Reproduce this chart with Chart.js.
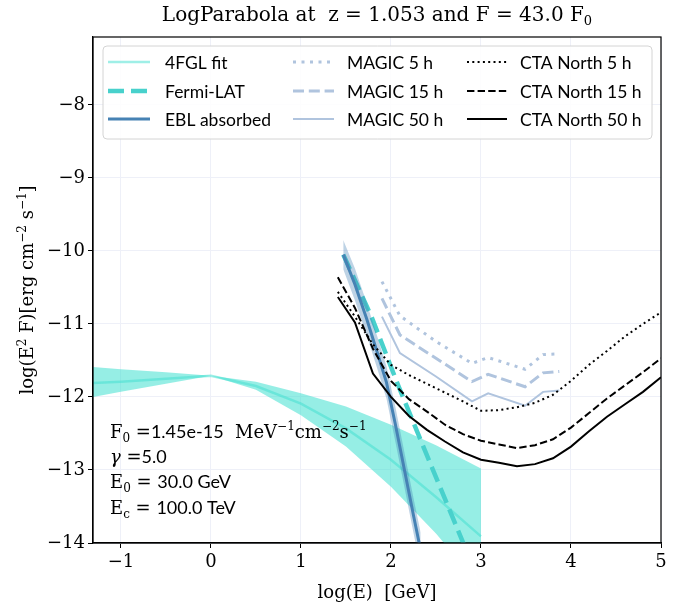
<!DOCTYPE html>
<html lang="en">
<head>
<meta charset="UTF-8">
<title>LogParabola spectrum</title>
<script src="https://cdn.jsdelivr.net/npm/chart.js"></script>
<style>
  body { margin: 0; background: #fff; }
  #wrap { width: 687px; height: 610px; }
</style>
</head>
<body>
<div id="wrap"><canvas id="sed"></canvas></div>
<script>
// log10(E / GeV) and log10(E^2 F / erg cm^-2 s^-1)

// 4FGL log-parabola fit with its uncertainty band
const fglX     = [-1.31, -1, -0.5, 0, 0.5, 1, 1.5, 2, 2.5, 3];
const fglFit   = [-11.81, -11.79, -11.75, -11.71, -11.85, -12.09, -12.43, -12.86, -13.37, -13.91];
const fglUpper = [-11.59, -11.62, -11.66, -11.71, -11.79, -11.95, -12.13, -12.38, -12.66, -12.98];
const fglLower = [-12.0, -11.93, -11.82, -11.71, -11.90, -12.25, -12.68, -13.23, -13.87, -14.6];

// Fermi-LAT extrapolation
const fermiX = [1.47, 1.79, 2.08, 2.43, 2.81];
const fermiY = [-10.05, -10.92, -11.84, -12.89, -14.02];

// EBL absorbed spectrum and band
const eblX     = [1.47, 1.6, 1.73, 1.85, 1.95, 2.05, 2.15, 2.25, 2.33];
const eblY     = [-10.05, -10.46, -10.93, -11.40, -11.80, -12.38, -13.0, -13.62, -14.1];
const eblUpper = [-9.85, -10.24, -10.71, -11.18, -11.58, -12.14, -12.76, -13.38, -13.86];
const eblLower = [-10.25, -10.68, -11.15, -11.62, -12.02, -12.62, -13.24, -13.86, -14.34];

// MAGIC sensitivity curves
const magicX   = [1.9, 2.1, 2.5, 2.9, 3.08, 3.49, 3.69, 3.87];
const magic5   = [-10.42, -10.89, -11.24, -11.54, -11.46, -11.62, -11.42, -11.41];
const magic15  = [-10.65, -11.15, -11.47, -11.79, -11.69, -11.86, -11.67, -11.65];
const magic50  = [-10.90, -11.40, -11.72, -12.06, -11.95, -12.12, -11.93, -11.91];

// CTA North sensitivity curves
const ctaX  = [1.41, 1.6, 1.8, 2.0, 2.2, 2.4, 2.6, 2.8, 3.0, 3.2, 3.4, 3.6, 3.8, 4.0, 4.2, 4.4, 4.6, 4.8, 5.0];
const cta5  = [-10.56, -10.90, -11.28, -11.56, -11.70, -11.82, -11.94, -12.06, -12.19, -12.18, -12.14, -12.08, -11.97, -11.78, -11.56, -11.37, -11.17, -11.00, -10.84];
const cta15 = [-10.36, -10.78, -11.34, -11.78, -12.03, -12.20, -12.38, -12.51, -12.60, -12.65, -12.70, -12.66, -12.58, -12.42, -12.22, -12.02, -11.84, -11.66, -11.47];
const cta50 = [-10.63, -10.98, -11.68, -12.0, -12.26, -12.45, -12.61, -12.76, -12.86, -12.90, -12.95, -12.92, -12.84, -12.68, -12.47, -12.27, -12.10, -11.93, -11.73];

const yTicks = [-14, -13, -12, -11, -10, -9, -8];
const xTicks = [-1, 0, 1, 2, 3, 4, 5];

const SERIF = '"DejaVu Serif", serif';
const SANS = 'Lato, sans-serif';

const pts = (xs, ys) => xs.map((x, i) => ({ x: x, y: ys[i] }));
const minus = v => (v < 0 ? '\u2212' + Math.abs(v) : String(v));

function line(label, xs, ys, color, width, dash, order) {
  return {
    label: label, data: pts(xs, ys), borderColor: color, borderWidth: width,
    borderDash: dash || [], pointRadius: 0, fill: false, tension: 0, order: order,
    borderCapStyle: 'butt'
  };
}
function edge(xs, ys, fill, bg, order) {
  return {
    label: '', data: pts(xs, ys), borderWidth: 0, borderColor: 'rgba(0,0,0,0)',
    backgroundColor: bg, pointRadius: 0, fill: fill, order: order, band: true
  };
}

const datasets = [
  edge(fglX, fglUpper, '+1', 'rgba(64,224,208,0.55)', 20),
  edge(fglX, fglLower, false, 'rgba(0,0,0,0)', 20),
  line('4FGL fit', fglX, fglFit, 'rgba(64,224,208,0.5)', 2.5, [], 19),
  line('Fermi-LAT', fermiX, fermiY, '#48D1CC', 4.5, [16, 7], 18),
  edge(eblX, eblUpper, '+1', 'rgba(70,130,180,0.35)', 17),
  edge(eblX, eblLower, false, 'rgba(0,0,0,0)', 17),
  line('EBL absorbed', eblX, eblY, '#4682B4', 3, [], 16),
  line('MAGIC 5 h', magicX, magic5, '#B0C4DE', 3, [3, 5.5], 10),
  line('MAGIC 15 h', magicX, magic15, '#B0C4DE', 3, [11, 4.8], 10),
  line('MAGIC 50 h', magicX, magic50, '#B0C4DE', 2, [], 10),
  line('CTA North 5 h', ctaX, cta5, '#000', 2, [2, 3.3], 5),
  line('CTA North 15 h', ctaX, cta15, '#000', 2, [7.4, 3.2], 5),
  line('CTA North 50 h', ctaX, cta50, '#000', 2, [], 5)
];

// draws a row of text pieces with their own font and vertical shift
function runs(ctx, x, y, parts) {
  parts.forEach(p => {
    ctx.font = p.f;
    ctx.fillText(p.t, x, y + (p.dy || 0));
    x += ctx.measureText(p.t).width;
  });
  return x;
}
function runsWidth(ctx, parts) {
  let w = 0;
  parts.forEach(p => { ctx.font = p.f; w += ctx.measureText(p.t).width; });
  return w;
}

const big = '18px ' + SERIF, small = '12px ' + SERIF, sans = '18px ' + SANS;

const framePlugin = {
  id: 'frame',
  afterDatasetsDraw(chart) {
    const ctx = chart.ctx, a = chart.chartArea;
    ctx.save();
    ctx.strokeStyle = '#000';
    ctx.lineWidth = 1.2;
    ctx.strokeRect(a.left, a.top, a.right - a.left, a.bottom - a.top);

    // legend, three columns
    const bx = 103, by = 46, bw = 549, bh = 93;
    ctx.beginPath();
    ctx.roundRect(bx, by, bw, bh, 4);
    ctx.fillStyle = 'rgba(255,255,255,0.85)';
    ctx.fill();
    ctx.strokeStyle = '#d4d4d4';
    ctx.lineWidth = 1;
    ctx.stroke();

    const shown = chart.data.datasets.filter(d => !d.band);
    const cols = [[108, 150, 165], [293, 334, 347], [467, 507, 520]];
    const rows = [62, 91, 119];
    ctx.textBaseline = 'middle';
    ctx.font = '17.5px ' + SANS;
    shown.forEach((d, i) => {
      const c = cols[Math.floor(i / 3)], y = rows[i % 3];
      ctx.strokeStyle = d.borderColor;
      ctx.lineWidth = d.borderWidth;
      ctx.setLineDash(d.borderDash);
      ctx.lineCap = 'butt';
      ctx.beginPath();
      ctx.moveTo(c[0], y);
      ctx.lineTo(c[1], y);
      ctx.stroke();
      ctx.setLineDash([]);
      ctx.fillStyle = '#000';
      ctx.fillText(d.label, c[2], y + 1);
    });

    // parameter block
    ctx.textBaseline = 'alphabetic';
    ctx.fillStyle = '#000';
    runs(ctx, 110, 438, [
      { t: 'F', f: big }, { t: '0', f: small, dy: 4 }, { t: ' =', f: big },
      { t: '1.45e-15', f: sans }, { t: '  MeV', f: big }, { t: '\u22121', f: small, dy: -8 },
      { t: 'cm', f: big }, { t: '\u22122', f: small, dy: -8 }, { t: 's', f: big },
      { t: '\u22121', f: small, dy: -8 }
    ]);
    runs(ctx, 110, 463, [{ t: '\u03b3', f: 'italic ' + big }, { t: ' =', f: big }, { t: '5.0', f: sans }]);
    runs(ctx, 110, 488, [{ t: 'E', f: big }, { t: '0', f: small, dy: 4 }, { t: ' = ', f: big }, { t: '30.0 GeV', f: sans }]);
    runs(ctx, 110, 514, [{ t: 'E', f: big }, { t: 'c', f: small, dy: 4 }, { t: ' = ', f: big }, { t: '100.0 TeV', f: sans }]);
    ctx.restore();
  },
  afterDraw(chart) {
    const ctx = chart.ctx, a = chart.chartArea;
    const cx = (a.left + a.right) / 2, cy = (a.top + a.bottom) / 2;
    ctx.save();
    ctx.fillStyle = '#000';
    const title = [{ t: 'LogParabola at  z = 1.053 and F = 43.0 F', f: '20px ' + SERIF }, { t: '0', f: '13px ' + SERIF, dy: 4 }];
    runs(ctx, cx - runsWidth(ctx, title) / 2, 21, title);

    const xl = [{ t: 'log(E)  [GeV]', f: big }];
    runs(ctx, cx - runsWidth(ctx, xl) / 2, 598, xl);

    const yl = [
      { t: 'log(E', f: big }, { t: '2', f: small, dy: -7 }, { t: ' F)[erg cm', f: big },
      { t: '\u22122', f: small, dy: -7 }, { t: ' s', f: big }, { t: '\u22121', f: small, dy: -7 }, { t: ']', f: big }
    ];
    ctx.translate(33, cy);
    ctx.rotate(-Math.PI / 2);
    runs(ctx, -runsWidth(ctx, yl) / 2, 0, yl);
    ctx.restore();
  }
};

new Chart(document.getElementById('sed'), {
  type: 'line',
  data: { datasets: datasets },
  options: {
    responsive: true,
    maintainAspectRatio: false,
    animation: false,
    devicePixelRatio: 1,
    layout: { padding: { top: 37, right: 26, left: 0, bottom: 0 } },
    plugins: { legend: { display: false }, tooltip: { enabled: false }, filler: { propagate: false } },
    scales: {
      x: {
        type: 'linear', min: -1.31, max: 5,
        afterFit: s => { s.height = 67; },
        afterBuildTicks: s => { s.ticks = xTicks.map(v => ({ value: v })); },
        ticks: { callback: minus, font: { family: SERIF, size: 18 }, color: '#000', padding: 4, maxRotation: 0 },
        grid: { color: '#eef0f8', tickColor: '#000', tickLength: 5, lineWidth: 1 },
        border: { color: '#000', width: 1.2 }
      },
      y: {
        type: 'linear', min: -14, max: -7.07,
        afterFit: s => { s.width = 93; },
        afterBuildTicks: s => { s.ticks = yTicks.map(v => ({ value: v })); },
        ticks: { callback: minus, font: { family: SERIF, size: 18 }, color: '#000', padding: 3 },
        grid: { color: '#eef0f8', tickColor: '#000', tickLength: 5, lineWidth: 1 },
        border: { color: '#000', width: 1.2 }
      }
    }
  },
  plugins: [framePlugin]
});
</script>
</body>
</html>
